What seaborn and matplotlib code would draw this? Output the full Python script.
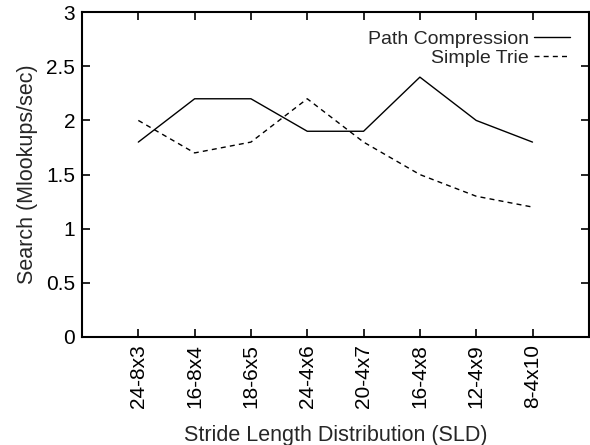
import matplotlib
matplotlib.use("Agg")
import matplotlib.pyplot as plt
import seaborn as sns
import pandas as pd

categories = ["24-8x3", "16-8x4", "18-6x5", "24-4x6", "20-4x7", "16-4x8", "12-4x9", "8-4x10"]
path_compression = [1.8, 2.2, 2.2, 1.9, 1.9, 2.4, 2.0, 1.8]
simple_trie = [2.0, 1.7, 1.8, 2.2, 1.8, 1.5, 1.3, 1.2]
y_ticks = [0, 0.5, 1, 1.5, 2, 2.5, 3]
y_tick_labels = ["0", "0.5", "1", "1.5", "2", "2.5", "3"]

sns.set_style("white")
plt.rcParams["font.family"] = ["Liberation Sans", "DejaVu Sans"]

df = pd.DataFrame({
    "pos": list(range(len(categories))) * 2,
    "value": path_compression + simple_trie,
    "series": ["Path Compression"] * len(categories) + ["Simple Trie"] * len(categories),
})

fig = plt.figure(figsize=(5.9, 4.45), dpi=100)
ax = fig.add_axes([0.139, 0.2427, 0.859, 0.730])

sns.lineplot(data=df, x="pos", y="value", style="series",
             dashes={"Path Compression": "", "Simple Trie": (3.6, 3.0)},
             color="black", linewidth=1.0, ax=ax)

ax.set_xlim(-1, 8)
ax.set_ylim(0, 3)
ax.set_xticks(range(len(categories)))
ax.set_xticklabels(categories, rotation=90, fontsize=15)
ax.set_yticks(y_ticks)
ax.set_yticklabels(y_tick_labels, fontsize=15)
ax.tick_params(direction="in", length=6, width=1.2, top=True, right=True,
               bottom=True, left=True, colors="black", pad=5)
for s in ax.spines.values():
    s.set_visible(True)
    s.set_color("black")
    s.set_linewidth(1.5)

ax.set_xlabel("Stride Length Distribution (SLD)", fontsize=15.5, labelpad=12)
ax.set_ylabel("Search (Mlookups/sec)", fontsize=15.5, labelpad=6)

leg = ax.legend(loc="upper right", frameon=False, markerfirst=False,
                fontsize=14, handlelength=1.85, handletextpad=0.3,
                borderaxespad=0.55, labelspacing=0.05)
for t in leg.get_texts():
    t.set_ha("right")

fig.savefig("out.png", dpi=100)
